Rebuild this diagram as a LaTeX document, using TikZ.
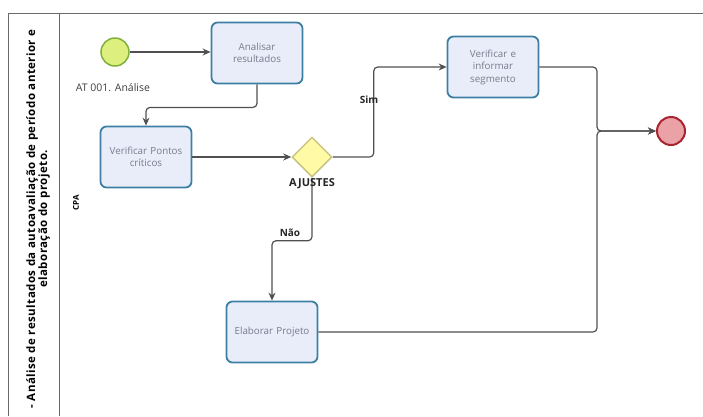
\documentclass[tikz,border=0pt]{standalone}
\usepackage{fontspec}
\setmainfont{Open Sans}
\usetikzlibrary{arrows.meta, positioning, shapes.geometric}

\definecolor{taskfill}{HTML}{E9EDFA}
\definecolor{taskline}{HTML}{3D7FA3}
\definecolor{tasktext}{HTML}{7A7A8C}
\definecolor{flowgray}{HTML}{505050}
\definecolor{poolgray}{HTML}{6A6A6A}
\definecolor{startfill}{HTML}{DCEF7F}
\definecolor{startline}{HTML}{7FB03A}
\definecolor{endfill}{HTML}{EBA2A6}
\definecolor{endline}{HTML}{A82530}

\begin{document}
\begin{tikzpicture}[x=1pt, y=-1pt, >={Stealth[length=8pt, width=7pt]},
    task/.style={draw=taskline, line width=1.8pt, fill=taskfill,
                 rounded corners=6pt, minimum width=91pt, minimum height=61pt,
                 text width=84pt, align=center, text=tasktext,
                 font=\fontsize{9.8}{12.5}\selectfont},
    flow/.style={draw=flowgray, line width=1.2pt, rounded corners=4pt, ->},
    flowlabel/.style={font=\bfseries\fontsize{10}{11}\selectfont, text=black!85},
    pool/.style={draw=poolgray, line width=1pt}]
  \useasboundingbox (0,0) rectangle (703,416);

  % Pool and lane
  \draw[pool] (8,416) -- (8,13) -- (703,13);
  \draw[pool] (59,13) -- (59,416);
  \node[rotate=90, align=center,
        font=\bfseries\fontsize{11.5}{12}\selectfont\addfontfeature{LetterSpace=4}]
    (pooltitle) at (38,219)
    {- Análise de resultados da autoavaliação de período anterior e\\
     elaboração do projeto.};
  \node[rotate=90, font=\bfseries\fontsize{8}{10}\selectfont] (lane) at (76,203) {CPA};

  % Events and gateway
  \node[circle, draw=startline, fill=startfill, line width=1.5pt,
        minimum size=28pt, inner sep=0pt] (inicio) at (115,52) {};
  \node[font=\fontsize{10.5}{12}\selectfont, text=black!75] (inicio lbl) at (113,88) {AT 001. Análise};
  \node[diamond, aspect=1, draw=yellow!60!black!60, fill=yellow!35, line width=1.5pt,
        minimum width=40pt, minimum height=40pt, inner sep=0pt] (ajustes) at (312,157) {};
  \node[circle, draw=endline, fill=endfill, line width=2pt,
        minimum size=28pt, inner sep=0pt] (fim) at (671,131) {};

  % Tasks
  \node[task] (analisar) at (257,53) {Analisar\\resultados};
  \node[task] (pontos) at (146,157) {Verificar Pontos\\críticos};
  \node[task] (informar) at (493,67) {Verificar e\\informar\\segmento};
  \node[task] (elaborar) at (272,332) {Elaborar Projeto};
  \coordinate (merge) at (597,131);

  % Sequence flows
  \draw[flow] (inicio.east) -- (inicio.east -| analisar.west);
  \draw[flow] (analisar.south) -- ++(0,23) -| (pontos.north);
  \draw[flow] (pontos.east) -- (ajustes.west);
  \draw[flow] (ajustes.east) -- ++(41,0) |- (informar.west);
  \draw[flow] (ajustes.south) -- ++(0,63) -| (elaborar.north);
  \draw[flow] (informar.east) -| (merge) -- (fim.west);
  \draw[flow] (elaborar.east) -| (merge) -- (fim.west);

  % Labels
  \node[flowlabel, font=\bfseries\fontsize{11}{12}\selectfont] (ajustes lbl) at (312,184) {AJUSTES};
  \node[flowlabel] (sim) at (369,100) {Sim};
  \node[flowlabel] (nao) at (290,233) {Não};
\end{tikzpicture}
\end{document}
